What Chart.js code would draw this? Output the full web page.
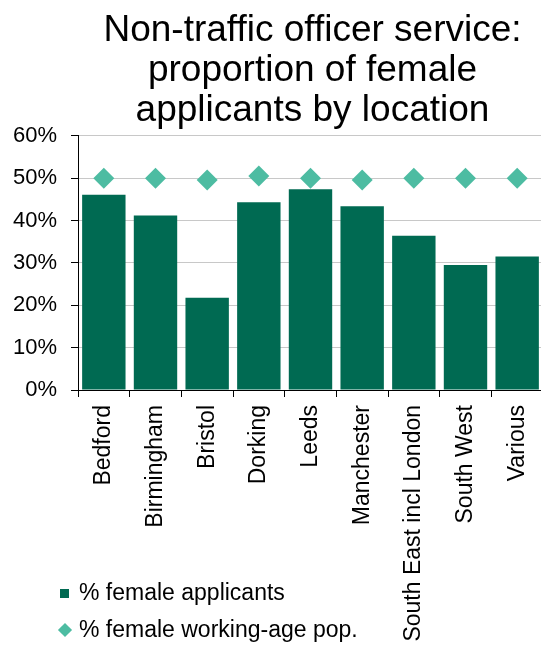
<!DOCTYPE html>
<html>
<head>
<meta charset="utf-8">
<script src="https://cdn.jsdelivr.net/npm/chart.js@4"></script>
<style>
  html, body { margin: 0; padding: 0; background: #fff; overflow: hidden; }
  #wrap { position: relative; width: 541px; height: 651px; overflow: hidden; }
  #chart { position: absolute; left: 0; top: 0; }
  .legend { position: absolute; left: 0; top: 0; font-family: "Liberation Sans", Arial, sans-serif; font-size: 23px; color: #000; }
  .item { position: absolute; white-space: nowrap; line-height: 1; }
  .sq { position: absolute; width: 9px; height: 9px; background: #006a52; }
  .dm { position: absolute; width: 10px; height: 10px; background: #4dbca2; transform: rotate(45deg); }
</style>
</head>
<body>
<div id="wrap">
  <canvas id="chart" width="620" height="651" style="width:620px;height:651px"></canvas>
  <div class="legend">
    <div class="sq" style="left:60px; top:589px;"></div>
    <div class="item" style="left:79px; top:581px;">% female applicants</div>
    <div class="dm" style="left:60px; top:625px;"></div>
    <div class="item" style="left:79px; top:618px;">% female working-age pop.</div>
  </div>
</div>
<script>
// Locations and the two series (per cent)
const locations = ["Bedford", "Birmingham", "Bristol", "Dorking", "Leeds", "Manchester", "South East incl London", "South West", "Various"];
const femaleApplicants = [46.1, 41.2, 21.8, 44.3, 47.4, 43.4, 36.4, 29.5, 31.5];
const femaleWorkingAgePop = [50.0, 50.0, 49.6, 50.5, 50.0, 49.6, 50.0, 50.0, 50.0];
const yTicks = [0, 10, 20, 30, 40, 50, 60];

const titleLines = ["Non-traffic officer service:", "proportion of female", "applicants by location"];
const FONT = "'Liberation Sans', Arial, sans-serif";

// Centre the title over the plot area rather than the whole canvas
const titleShift = {
  id: "titleShift",
  afterLayout(chart) {
    const t = chart.titleBlock;
    if (t) { t.left += 41; t.right += 41; }
  }
};

new Chart(document.getElementById("chart"), {
  data: {
    labels: locations,
    datasets: [
      {
        type: "line",
        label: "% female working-age pop.",
        data: femaleWorkingAgePop,
        showLine: false,
        pointStyle: "rectRot",
        pointRadius: 10.5,
        pointHoverRadius: 10.5,
        pointBackgroundColor: "#4dbca2",
        pointBorderColor: "#4dbca2",
        pointBorderWidth: 0,
        order: 0
      },
      {
        type: "bar",
        label: "% female applicants",
        data: femaleApplicants,
        backgroundColor: "#006a52",
        borderWidth: 0,
        barPercentage: 0.84,
        categoryPercentage: 1.0,
        order: 1
      }
    ]
  },
  plugins: [titleShift],
  options: {
    responsive: false,
    animation: false,
    devicePixelRatio: 1,
    layout: { padding: { left: 0, right: 77, top: 0, bottom: 0 } },
    plugins: {
      legend: { display: false },
      tooltip: { enabled: false },
      title: {
        display: true,
        text: titleLines,
        color: "#000",
        font: { family: FONT, size: 37, weight: "normal", lineHeight: 1.08 },
        padding: { top: 11, bottom: 5 }
      }
    },
    scales: {
      x: {
        grid: { display: true, drawOnChartArea: false, drawTicks: true, tickLength: 7, color: "#000", tickColor: "#000", lineWidth: 1 },
        border: { display: true, color: "#000", width: 1 },
        ticks: {
          color: "#000",
          font: { family: FONT, size: 23 },
          minRotation: 90,
          maxRotation: 90,
          autoSkip: false,
          padding: 8
        },
        afterFit: (s) => { s.height = 261; }
      },
      y: {
        min: 0,
        max: 60,
        afterBuildTicks: (s) => { s.ticks = yTicks.map(v => ({ value: v })); },
        grid: { color: "#c8c8c8", lineWidth: 1, drawTicks: true, tickLength: 7, tickColor: "#000" },
        border: { display: true, color: "#000", width: 1 },
        ticks: {
          color: "#000",
          font: { family: FONT, size: 22 },
          padding: 14,
          callback: (v) => v + "%"
        },
        afterFit: (s) => { s.width = 78; }
      }
    }
  }
});
</script>
</body>
</html>
